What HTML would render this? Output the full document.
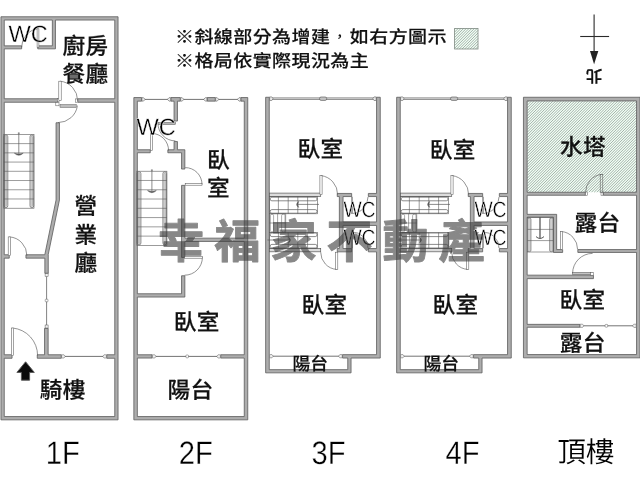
<!DOCTYPE html>
<html lang="zh-Hant">
<head>
<meta charset="utf-8">
<title>格局圖</title>
<style>
html,body{margin:0;padding:0;background:#fff;}
body{width:640px;height:480px;overflow:hidden;}
svg{display:block;will-change:transform;text-rendering:geometricPrecision;font-family:"Liberation Sans","Noto Sans CJK TC",sans-serif;}
.walls path{fill:#adadad;stroke:#5a5a5a;stroke-width:0.8;fill-rule:evenodd;}
.thin *{stroke:#5a5a5a;}
.wm{font-family:"Liberation Sans","Noto Sans CJK TC",sans-serif;font-weight:700;}
</style>
</head>
<body>
<svg width="640" height="480" viewBox="0 0 640 480" role="img" aria-label="格局圖">
<defs>


</defs>
<rect width="640" height="480" fill="#fff"/>
<g class="hatch">
<rect x="527.4" y="101.2" width="109" height="91" fill="#f1fef5"/><path d="M527.40,102.40L528.60,101.20M527.40,105.10L531.30,101.20M527.40,107.80L534.00,101.20M527.40,110.50L536.70,101.20M527.40,113.20L539.40,101.20M527.40,115.90L542.10,101.20M527.40,118.60L544.80,101.20M527.40,121.30L547.50,101.20M527.40,124.00L550.20,101.20M527.40,126.70L552.90,101.20M527.40,129.40L555.60,101.20M527.40,132.10L558.30,101.20M527.40,134.80L561.00,101.20M527.40,137.50L563.70,101.20M527.40,140.20L566.40,101.20M527.40,142.90L569.10,101.20M527.40,145.60L571.80,101.20M527.40,148.30L574.50,101.20M527.40,151.00L577.20,101.20M527.40,153.70L579.90,101.20M527.40,156.40L582.60,101.20M527.40,159.10L585.30,101.20M527.40,161.80L588.00,101.20M527.40,164.50L590.70,101.20M527.40,167.20L593.40,101.20M527.40,169.90L596.10,101.20M527.40,172.60L598.80,101.20M527.40,175.30L601.50,101.20M527.40,178.00L604.20,101.20M527.40,180.70L606.90,101.20M527.40,183.40L609.60,101.20M527.40,186.10L612.30,101.20M527.40,188.80L615.00,101.20M527.40,191.50L617.70,101.20M529.40,192.20L620.40,101.20M532.10,192.20L623.10,101.20M534.80,192.20L625.80,101.20M537.50,192.20L628.50,101.20M540.20,192.20L631.20,101.20M542.90,192.20L633.90,101.20M545.60,192.20L636.40,101.40M548.30,192.20L636.40,104.10M551.00,192.20L636.40,106.80M553.70,192.20L636.40,109.50M556.40,192.20L636.40,112.20M559.10,192.20L636.40,114.90M561.80,192.20L636.40,117.60M564.50,192.20L636.40,120.30M567.20,192.20L636.40,123.00M569.90,192.20L636.40,125.70M572.60,192.20L636.40,128.40M575.30,192.20L636.40,131.10M578.00,192.20L636.40,133.80M580.70,192.20L636.40,136.50M583.40,192.20L636.40,139.20M586.10,192.20L636.40,141.90M588.80,192.20L636.40,144.60M591.50,192.20L636.40,147.30M594.20,192.20L636.40,150.00M596.90,192.20L636.40,152.70M599.60,192.20L636.40,155.40M602.30,192.20L636.40,158.10M605.00,192.20L636.40,160.80M607.70,192.20L636.40,163.50M610.40,192.20L636.40,166.20M613.10,192.20L636.40,168.90M615.80,192.20L636.40,171.60M618.50,192.20L636.40,174.30M621.20,192.20L636.40,177.00M623.90,192.20L636.40,179.70M626.60,192.20L636.40,182.40M629.30,192.20L636.40,185.10M632.00,192.20L636.40,187.80M634.70,192.20L636.40,190.50" stroke="#74827a" stroke-width="0.62" fill="none"/><rect x="454.6" y="28.4" width="23.4" height="20.6" fill="#f1fef5"/><path d="M454.60,29.40L455.60,28.40M454.60,32.10L458.30,28.40M454.60,34.80L461.00,28.40M454.60,37.50L463.70,28.40M454.60,40.20L466.40,28.40M454.60,42.90L469.10,28.40M454.60,45.60L471.80,28.40M454.60,48.30L474.50,28.40M456.60,49.00L477.20,28.40M459.30,49.00L478.00,30.30M462.00,49.00L478.00,33.00M464.70,49.00L478.00,35.70M467.40,49.00L478.00,38.40M470.10,49.00L478.00,41.10M472.80,49.00L478.00,43.80M475.50,49.00L478.00,46.50" stroke="#74827a" stroke-width="0.62" fill="none"/>
</g>
<g class="walls">
<path d="M523.45,97.25 L523.45,357.85 L640.05,357.85 L640.05,97.25ZM553.45,252.45 L562.65,252.45 L562.65,249.55 L556.65,249.55 L556.65,214.35 L527.15,214.35 L527.15,195.25 L585.25,195.25 L585.25,192.25 L527.15,192.25 L527.15,100.95 L636.55,100.95 L636.55,192.25 L603.35,192.25 L603.35,195.25 L636.55,195.25 L636.55,249.55 L577.85,249.55 L577.85,252.45 L636.55,252.45 L636.55,354.55 L527.15,354.55 L527.15,327.25 L579.85,327.25 L579.85,324.35 L527.15,324.35 L527.15,278.65 L593.45,278.65 L593.45,275.15 L527.15,275.15 L527.15,217.15 L553.45,217.15Z"/>
<path d="M396.65,372.85 L482.05,372.85 L482.05,358.05 L511.25,358.05 L511.25,97.25 L507.55,97.25 L507.55,193.45 L499.35,193.45 L499.35,196.55 L507.55,196.55 L507.55,221.95 L474.05,221.95 L474.05,196.55 L482.65,196.55 L482.65,193.45 L468.25,193.45 L468.25,196.55 L470.35,196.55 L470.35,248.55 L468.25,248.55 L468.25,251.85 L482.65,251.85 L482.65,248.55 L474.05,248.55 L474.05,225.45 L507.55,225.45 L507.55,248.55 L499.35,248.55 L499.35,251.85 L507.55,251.85 L507.55,354.65 L473.55,354.65 L473.55,358.05 L478.75,358.05 L478.75,369.65 L400.25,369.65 L400.25,97.25 L396.65,97.25Z"/>
<path d="M343.05,196.55 L351.65,196.55 L351.65,193.45 L337.25,193.45 L337.25,196.55 L339.35,196.55 L339.35,248.55 L337.25,248.55 L337.25,251.85 L351.65,251.85 L351.65,248.55 L343.05,248.55 L343.05,225.45 L376.55,225.45 L376.55,248.55 L368.35,248.55 L368.35,251.85 L376.55,251.85 L376.55,354.65 L342.55,354.65 L342.55,358.05 L347.75,358.05 L347.75,369.65 L269.25,369.65 L269.25,97.25 L265.65,97.25 L265.65,372.85 L351.05,372.85 L351.05,358.05 L380.25,358.05 L380.25,97.25 L376.55,97.25 L376.55,193.45 L368.35,193.45 L368.35,196.55 L376.55,196.55 L376.55,221.95 L343.05,221.95Z"/>
<path d="M133.85,97.55 L133.85,419.85 L247.75,419.85 L247.75,97.55 L240.95,97.55 L240.95,101.15 L244.25,101.15 L244.25,238.15 L184.85,238.15 L184.85,185.35 L181.55,185.35 L181.55,257.45 L184.85,257.45 L184.85,241.45 L244.25,241.45 L244.25,354.75 L220.75,354.75 L220.75,358.05 L244.25,358.05 L244.25,416.55 L137.35,416.55 L137.35,358.05 L152.05,358.05 L152.05,354.75 L137.35,354.75 L137.35,297.05 L184.85,297.05 L184.85,275.75 L181.55,275.75 L181.55,293.75 L137.35,293.75 L137.35,152.75 L150.25,152.75 L150.25,149.75 L137.35,149.75 L137.35,101.15 L141.55,101.15 L141.55,97.55Z"/>
<path d="M207.25,101.15 L215.25,101.15 L215.25,97.55 L207.25,97.55Z"/>
<path d="M181.55,152.75 L181.55,169.05 L184.85,169.05 L184.85,149.75 L177.45,149.75 L177.45,141.55 L174.05,141.55 L174.05,149.75 L167.85,149.75 L167.85,152.75Z"/>
<path d="M170.95,101.15 L174.05,101.15 L174.05,121.05 L177.45,121.05 L177.45,101.15 L180.25,101.15 L180.25,97.55 L170.95,97.55Z"/>
<path d="M0.95,419.85 L118.05,419.85 L118.05,16.75 L0.95,16.75ZM12.05,358.25 L12.05,354.75 L4.25,354.75 L4.25,258.15 L9.25,258.15 L9.25,254.75 L4.25,254.75 L4.25,102.25 L57.65,102.25 L57.65,98.75 L4.25,98.75 L4.25,48.85 L21.65,48.85 L21.65,45.85 L4.25,45.85 L4.25,20.05 L52.35,20.05 L52.35,45.85 L37.75,45.85 L37.75,48.85 L55.45,48.85 L55.45,20.05 L114.75,20.05 L114.75,98.75 L77.75,98.75 L77.75,102.25 L114.75,102.25 L114.75,354.75 L106.75,354.75 L106.75,358.25 L114.75,358.25 L114.75,416.55 L4.25,416.55 L4.25,358.25Z"/>
<path d="M61.25,354.75 L48.15,354.75 L48.15,328.35 L44.55,328.35 L44.55,354.75 L37.25,354.75 L37.25,358.25 L61.25,358.25Z"/>
<path d="M59.45,199.96 L59.45,122.75 L56.05,122.75 L56.05,200.04 L44.79,254.75 L25.95,254.75 L25.95,258.15 L44.85,258.15 L44.85,273.25 L48.25,273.25 L48.25,254.36Z"/>
</g>
<g class="thin" fill="none">
<path d="M38,28.8 A18.50,18.50 0 0 0 21.6,47.3" stroke-width="0.65" fill="none" stroke="#666"/>
<rect x="37.1" y="28.8" width="1.8" height="18.5" stroke-width="0.55" fill="#fff" stroke="#666"/>
<rect x="57.3" y="98.6" width="2.3" height="2.8" stroke-width="0.5" fill="#fff" stroke="#666"/>
<rect x="75.6" y="98.9" width="2.0" height="3.3" stroke-width="0.5" fill="#fff" stroke="#666"/>
<path d="M60,81.2 A19.40,19.40 0 0 1 77.6,100.6" stroke-width="0.65" fill="none" stroke="#666"/>
<rect x="58.8" y="81.2" width="2.4" height="19.4" stroke-width="0.55" fill="#fff" stroke="#666"/>
<rect x="55.8" y="102.6" width="3.2" height="3.2" stroke-width="0.5" fill="#fff" stroke="#666"/>
<rect x="60" y="104.6" width="16.2" height="2.8" stroke-width="0.5" fill="#bdbdbd" stroke="#888"/>
<path d="M77.4,105.6 A19.6,19.6 0 0 1 58,122.6" stroke-width="0.65" fill="none" stroke="#666"/>
<line x1="46.6" y1="273.6" x2="46.6" y2="328" stroke-width="0.75" stroke="#666"/>
<rect x="45.2" y="299.2" width="2.8" height="2.6" stroke-width="0.5" fill="#fff" stroke="#666" rx="0.7"/>
<rect x="45.1" y="273.6" width="3.0" height="3.0" stroke-width="0.5" fill="#f2f2f2" stroke="#666"/>
<rect x="45.1" y="325" width="3.0" height="3" stroke-width="0.5" fill="#f2f2f2" stroke="#666"/>
<path d="M9.4,236.9 A18.70,18.70 0 0 1 26.9,255.6" stroke-width="0.65" fill="none" stroke="#666"/>
<rect x="8.2" y="236.9" width="2.4" height="18.7" stroke-width="0.55" fill="#fff" stroke="#666"/>
<line x1="61.6" y1="356.4" x2="106.4" y2="356.4" stroke-width="0.85" stroke="#555"/>
<path d="M61.6,354.79999999999995 L64.0,354.79999999999995 L65.2,356.4 L64.0,358.0 L61.6,358.0 Z" stroke-width="0.5" fill="#f2f2f2" stroke="#666"/>
<path d="M106.4,354.79999999999995 L104.0,354.79999999999995 L102.80000000000001,356.4 L104.0,358.0 L106.4,358.0 Z" stroke-width="0.5" fill="#f2f2f2" stroke="#666"/>
<path d="M12.5,328 A27.60,27.60 0 0 1 37.6,355.6" stroke-width="0.65" fill="none" stroke="#666"/>
<rect x="11.3" y="328" width="2.4" height="27.6" stroke-width="0.55" fill="#fff" stroke="#666"/>
<rect x="3.8" y="134.4" width="30.2" height="73.8" stroke-width="0.6" fill="none" stroke="#444"/>
<line x1="3.8" y1="143.62" x2="34" y2="143.62" stroke-width="0.6" stroke="#444"/>
<line x1="3.8" y1="152.85" x2="34" y2="152.85" stroke-width="0.6" stroke="#444"/>
<line x1="3.8" y1="162.07" x2="34" y2="162.07" stroke-width="0.6" stroke="#444"/>
<line x1="3.8" y1="171.3" x2="34" y2="171.3" stroke-width="0.6" stroke="#444"/>
<line x1="3.8" y1="180.52" x2="34" y2="180.52" stroke-width="0.6" stroke="#444"/>
<line x1="3.8" y1="189.75" x2="34" y2="189.75" stroke-width="0.6" stroke="#444"/>
<line x1="3.8" y1="198.97" x2="34" y2="198.97" stroke-width="0.6" stroke="#444"/>
<rect x="4.1" y="135.0" width="3.7" height="72.6" stroke-width="0.7" fill="none" stroke="#3c3c3c" rx="1.8"/>
<rect x="5.3" y="136.2" width="1.3" height="70.2" stroke-width="0.45" fill="none" stroke="#888" rx="0.6"/>
<rect x="30.0" y="135.0" width="3.7" height="72.6" stroke-width="0.7" fill="none" stroke="#3c3c3c" rx="1.8"/>
<rect x="31.2" y="136.2" width="1.3" height="70.2" stroke-width="0.45" fill="none" stroke="#888" rx="0.6"/>
<line x1="18.8" y1="132.4" x2="18.8" y2="155" stroke-width="0.7" stroke="#444"/>
<line x1="17.8" y1="133.20000000000002" x2="19.8" y2="133.20000000000002" stroke-width="0.6" stroke="#444"/>
<path d="M14.4,153.2 Q18.8,157.4 23.200000000000003,153.2 Q18.8,154.8 14.4,153.2 Z" stroke-width="0.5" fill="#555" stroke="#444"/>
<polygon points="25.6,361.8 34.3,372.4 29.6,372.4 29.6,380.2 21.4,380.2 21.4,372.4 16.9,372.4" fill="#0a0a0a" stroke="none"/>
<line x1="143.9" y1="99.4" x2="168.6" y2="99.4" stroke-width="0.85" stroke="#555"/>
<path d="M141.9,97.7 L143.5,97.7 L145.1,99.4 L143.5,101.1 L141.9,101.1 Z" stroke-width="0.6" fill="#eee" stroke="#555"/>
<path d="M170.6,97.7 L169.0,97.7 L167.4,99.4 L169.0,101.1 L170.6,101.1 Z" stroke-width="0.6" fill="#eee" stroke="#555"/>
<line x1="182.6" y1="99.4" x2="204.9" y2="99.4" stroke-width="0.85" stroke="#555"/>
<path d="M180.6,97.7 L182.2,97.7 L183.79999999999998,99.4 L182.2,101.1 L180.6,101.1 Z" stroke-width="0.6" fill="#eee" stroke="#555"/>
<path d="M206.9,97.7 L205.3,97.7 L203.70000000000002,99.4 L205.3,101.1 L206.9,101.1 Z" stroke-width="0.6" fill="#eee" stroke="#555"/>
<line x1="217.6" y1="99.4" x2="238.6" y2="99.4" stroke-width="0.85" stroke="#555"/>
<path d="M215.6,97.7 L217.2,97.7 L218.79999999999998,99.4 L217.2,101.1 L215.6,101.1 Z" stroke-width="0.6" fill="#eee" stroke="#555"/>
<path d="M240.6,97.7 L239.0,97.7 L237.4,99.4 L239.0,101.1 L240.6,101.1 Z" stroke-width="0.6" fill="#eee" stroke="#555"/>
<path d="M158,123.5 A17.40,17.40 0 0 0 175.4,140.9" stroke-width="0.65" fill="none" stroke="#666"/>
<rect x="158" y="122.6" width="17.4" height="1.8" stroke-width="0.55" fill="#b4b4b4" stroke="#666"/>
<path d="M151.5,133.4 A17.20,17.20 0 0 1 168.6,150.6" stroke-width="0.65" fill="none" stroke="#666"/>
<rect x="150.6" y="133.4" width="1.8" height="17.2" stroke-width="0.55" fill="#fff" stroke="#666"/>
<path d="M202,184.4 A16.80,16.80 0 0 0 185.2,167.6" stroke-width="0.65" fill="none" stroke="#666"/>
<rect x="185.2" y="183.6" width="16.8" height="1.6" stroke-width="0.55" fill="#fff" stroke="#666"/>
<path d="M202.4,257.4 A17.80,17.80 0 0 1 184.6,275.2" stroke-width="0.65" fill="none" stroke="#666"/>
<rect x="184.6" y="256.6" width="17.8" height="1.6" stroke-width="0.55" fill="#fff" stroke="#666"/>
<line x1="152.4" y1="356.4" x2="220.4" y2="356.4" stroke-width="0.85" stroke="#555"/>
<rect x="185.9" y="355.0" width="2.6" height="2.8" stroke-width="0.5" fill="#fff" stroke="#666" rx="0.7"/>
<path d="M152.4,354.79999999999995 L154.8,354.79999999999995 L156.0,356.4 L154.8,358.0 L152.4,358.0 Z" stroke-width="0.5" fill="#f2f2f2" stroke="#666"/>
<path d="M220.4,354.79999999999995 L218.0,354.79999999999995 L216.8,356.4 L218.0,358.0 L220.4,358.0 Z" stroke-width="0.5" fill="#f2f2f2" stroke="#666"/>
<rect x="136.9" y="171.2" width="30.0" height="74.2" stroke-width="0.6" fill="none" stroke="#444"/>
<line x1="136.9" y1="180.47" x2="166.9" y2="180.47" stroke-width="0.6" stroke="#444"/>
<line x1="136.9" y1="189.75" x2="166.9" y2="189.75" stroke-width="0.6" stroke="#444"/>
<line x1="136.9" y1="199.03" x2="166.9" y2="199.03" stroke-width="0.6" stroke="#444"/>
<line x1="136.9" y1="208.3" x2="166.9" y2="208.3" stroke-width="0.6" stroke="#444"/>
<line x1="136.9" y1="217.57" x2="166.9" y2="217.57" stroke-width="0.6" stroke="#444"/>
<line x1="136.9" y1="226.85" x2="166.9" y2="226.85" stroke-width="0.6" stroke="#444"/>
<line x1="136.9" y1="236.12" x2="166.9" y2="236.12" stroke-width="0.6" stroke="#444"/>
<rect x="137.2" y="171.8" width="3.7" height="73.0" stroke-width="0.7" fill="none" stroke="#3c3c3c" rx="1.8"/>
<rect x="138.4" y="173.0" width="1.3" height="70.6" stroke-width="0.45" fill="none" stroke="#888" rx="0.6"/>
<rect x="162.9" y="171.8" width="3.7" height="73.0" stroke-width="0.7" fill="none" stroke="#3c3c3c" rx="1.8"/>
<rect x="164.1" y="173.0" width="1.3" height="70.6" stroke-width="0.45" fill="none" stroke="#888" rx="0.6"/>
<line x1="151.9" y1="169.4" x2="151.9" y2="192.4" stroke-width="0.7" stroke="#444"/>
<line x1="150.9" y1="170.20000000000002" x2="152.9" y2="170.20000000000002" stroke-width="0.6" stroke="#444"/>
<path d="M147.5,190.6 Q151.9,194.8 156.3,190.6 Q151.9,192.20000000000002 147.5,190.6 Z" stroke-width="0.5" fill="#555" stroke="#444"/>
<rect x="269.6" y="97.9" width="106.6" height="1.6" stroke-width="0.6" fill="#dcdcdc" stroke="#5c5c5c"/>
<rect x="319.5" y="97.0" width="7.2" height="3.4" stroke-width="0.65" fill="#c4c4c4" stroke="#4a4a4a" rx="1.6"/>
<path d="M269.6,96.9 L271.8,96.9 L273.0,98.7 L271.8,100.5 L269.6,100.5 Z" stroke-width="0.55" fill="#e8e8e8" stroke="#666"/>
<path d="M376.2,96.9 L374.0,96.9 L372.8,98.7 L374.0,100.5 L376.2,100.5 Z" stroke-width="0.55" fill="#e8e8e8" stroke="#666"/>
<rect x="269.6" y="193.1" width="51.1" height="3.5" stroke-width="0.7" fill="#dcdcdc" stroke="#555"/>
<path d="M321,175.6 A19.00,19.00 0 0 1 337.6,194.6" stroke-width="0.65" fill="none" stroke="#666"/>
<rect x="319.9" y="175.6" width="2.2" height="19.0" stroke-width="0.55" fill="#fff" stroke="#666"/>
<path d="M352,213.5 A16.50,16.50 0 0 0 368,197" stroke-width="0.65" fill="none" stroke="#666"/>
<rect x="351.3" y="197" width="1.4" height="16.5" stroke-width="0.55" fill="#fff" stroke="#666"/>
<path d="M352,232 A16.00,16.00 0 0 1 368,248" stroke-width="0.65" fill="none" stroke="#666"/>
<rect x="351.3" y="232" width="1.4" height="16" stroke-width="0.55" fill="#fff" stroke="#666"/>
<rect x="269.6" y="248.4" width="51.1" height="3.4" stroke-width="0.7" fill="#dcdcdc" stroke="#555"/>
<path d="M336.7,269.4 A17.20,17.20 0 0 1 320.7,252.2" stroke-width="0.65" fill="none" stroke="#666"/>
<rect x="335.6" y="252.2" width="2.2" height="17.2" stroke-width="0.55" fill="#fff" stroke="#666"/>
<rect x="269.6" y="196.6" width="48.0" height="17.2" stroke-width="0.6" fill="none" stroke="#444"/>
<rect x="270.2" y="197.2" width="46.8" height="3.6" stroke-width="0.7" fill="none" stroke="#3c3c3c" rx="1.7"/>
<rect x="270.2" y="209.6" width="46.8" height="3.6" stroke-width="0.7" fill="none" stroke="#3c3c3c" rx="1.7"/>
<line x1="278.4" y1="196.6" x2="278.4" y2="213.8" stroke-width="0.6" stroke="#444"/>
<line x1="288.2" y1="196.6" x2="288.2" y2="213.8" stroke-width="0.6" stroke="#444"/>
<line x1="297.8" y1="196.6" x2="297.8" y2="213.8" stroke-width="0.6" stroke="#444"/>
<line x1="307.6" y1="196.6" x2="307.6" y2="213.8" stroke-width="0.6" stroke="#444"/>
<rect x="269.6" y="232.4" width="48.0" height="16.2" stroke-width="0.6" fill="none" stroke="#444"/>
<rect x="270.2" y="233.0" width="46.8" height="3.6" stroke-width="0.7" fill="none" stroke="#3c3c3c" rx="1.7"/>
<rect x="270.2" y="244.4" width="46.8" height="3.6" stroke-width="0.7" fill="none" stroke="#3c3c3c" rx="1.7"/>
<line x1="278.4" y1="232.4" x2="278.4" y2="248.6" stroke-width="0.6" stroke="#444"/>
<line x1="288.2" y1="232.4" x2="288.2" y2="248.6" stroke-width="0.6" stroke="#444"/>
<line x1="297.8" y1="232.4" x2="297.8" y2="248.6" stroke-width="0.6" stroke="#444"/>
<line x1="307.6" y1="232.4" x2="307.6" y2="248.6" stroke-width="0.6" stroke="#444"/>
<rect x="269.6" y="213.8" width="16.2" height="18.6" stroke-width="0.6" fill="none" stroke="#444"/>
<rect x="270.4" y="214.2" width="3.2" height="17.8" stroke-width="0.5" fill="none" stroke="#444" rx="1.5"/>
<rect x="281.6" y="214.2" width="3.4" height="17.8" stroke-width="0.5" fill="none" stroke="#444" rx="1.5"/>
<line x1="277.6" y1="213.8" x2="277.6" y2="232.4" stroke-width="0.55" stroke="#444"/>
<line x1="269.6" y1="223" x2="285.8" y2="223" stroke-width="0.55" stroke="#444"/>
<line x1="297" y1="204.4" x2="319" y2="204.4" stroke-width="0.7" stroke="#444"/>
<path d="M298.6,201.4 Q294.6,204.4 298.6,207.4 Q297,204.4 298.6,201.4 Z" stroke-width="0.5" fill="#555" stroke="#444"/>
<line x1="267.4" y1="240" x2="290" y2="240" stroke-width="0.7" stroke="#444"/>
<path d="M288.6,237.2 Q292.4,240 288.6,242.8 Q290.2,240 288.6,237.2 Z" stroke-width="0.5" fill="#555" stroke="#444"/>
<line x1="269.6" y1="356.2" x2="342.2" y2="356.2" stroke-width="0.85" stroke="#555"/>
<path d="M269.6,354.59999999999997 L272.0,354.59999999999997 L273.20000000000005,356.2 L272.0,357.8 L269.6,357.8 Z" stroke-width="0.5" fill="#f2f2f2" stroke="#666"/>
<path d="M342.2,354.59999999999997 L339.8,354.59999999999997 L338.59999999999997,356.2 L339.8,357.8 L342.2,357.8 Z" stroke-width="0.5" fill="#f2f2f2" stroke="#666"/>
<rect x="400.6" y="97.9" width="106.6" height="1.6" stroke-width="0.6" fill="#dcdcdc" stroke="#5c5c5c"/>
<rect x="450.5" y="97.0" width="7.2" height="3.4" stroke-width="0.65" fill="#c4c4c4" stroke="#4a4a4a" rx="1.6"/>
<path d="M400.6,96.9 L402.8,96.9 L404.0,98.7 L402.8,100.5 L400.6,100.5 Z" stroke-width="0.55" fill="#e8e8e8" stroke="#666"/>
<path d="M507.2,96.9 L505.0,96.9 L503.8,98.7 L505.0,100.5 L507.2,100.5 Z" stroke-width="0.55" fill="#e8e8e8" stroke="#666"/>
<rect x="400.6" y="193.1" width="51.1" height="3.5" stroke-width="0.7" fill="#dcdcdc" stroke="#555"/>
<path d="M452,175.6 A19.00,19.00 0 0 1 468.6,194.6" stroke-width="0.65" fill="none" stroke="#666"/>
<rect x="450.9" y="175.6" width="2.2" height="19.0" stroke-width="0.55" fill="#fff" stroke="#666"/>
<path d="M483,213.5 A16.50,16.50 0 0 0 499,197" stroke-width="0.65" fill="none" stroke="#666"/>
<rect x="482.3" y="197" width="1.4" height="16.5" stroke-width="0.55" fill="#fff" stroke="#666"/>
<path d="M483,232 A16.00,16.00 0 0 1 499,248" stroke-width="0.65" fill="none" stroke="#666"/>
<rect x="482.3" y="232" width="1.4" height="16" stroke-width="0.55" fill="#fff" stroke="#666"/>
<rect x="400.6" y="248.4" width="51.1" height="3.4" stroke-width="0.7" fill="#dcdcdc" stroke="#555"/>
<path d="M467.7,269.4 A17.20,17.20 0 0 1 451.7,252.2" stroke-width="0.65" fill="none" stroke="#666"/>
<rect x="466.6" y="252.2" width="2.2" height="17.2" stroke-width="0.55" fill="#fff" stroke="#666"/>
<rect x="400.6" y="196.6" width="48.0" height="17.2" stroke-width="0.6" fill="none" stroke="#444"/>
<rect x="401.2" y="197.2" width="46.8" height="3.6" stroke-width="0.7" fill="none" stroke="#3c3c3c" rx="1.7"/>
<rect x="401.2" y="209.6" width="46.8" height="3.6" stroke-width="0.7" fill="none" stroke="#3c3c3c" rx="1.7"/>
<line x1="409.4" y1="196.6" x2="409.4" y2="213.8" stroke-width="0.6" stroke="#444"/>
<line x1="419.2" y1="196.6" x2="419.2" y2="213.8" stroke-width="0.6" stroke="#444"/>
<line x1="428.8" y1="196.6" x2="428.8" y2="213.8" stroke-width="0.6" stroke="#444"/>
<line x1="438.6" y1="196.6" x2="438.6" y2="213.8" stroke-width="0.6" stroke="#444"/>
<rect x="400.6" y="232.4" width="48.0" height="16.2" stroke-width="0.6" fill="none" stroke="#444"/>
<rect x="401.2" y="233.0" width="46.8" height="3.6" stroke-width="0.7" fill="none" stroke="#3c3c3c" rx="1.7"/>
<rect x="401.2" y="244.4" width="46.8" height="3.6" stroke-width="0.7" fill="none" stroke="#3c3c3c" rx="1.7"/>
<line x1="409.4" y1="232.4" x2="409.4" y2="248.6" stroke-width="0.6" stroke="#444"/>
<line x1="419.2" y1="232.4" x2="419.2" y2="248.6" stroke-width="0.6" stroke="#444"/>
<line x1="428.8" y1="232.4" x2="428.8" y2="248.6" stroke-width="0.6" stroke="#444"/>
<line x1="438.6" y1="232.4" x2="438.6" y2="248.6" stroke-width="0.6" stroke="#444"/>
<rect x="400.6" y="213.8" width="16.2" height="18.6" stroke-width="0.6" fill="none" stroke="#444"/>
<rect x="401.4" y="214.2" width="3.2" height="17.8" stroke-width="0.5" fill="none" stroke="#444" rx="1.5"/>
<rect x="412.6" y="214.2" width="3.4" height="17.8" stroke-width="0.5" fill="none" stroke="#444" rx="1.5"/>
<line x1="408.6" y1="213.8" x2="408.6" y2="232.4" stroke-width="0.55" stroke="#444"/>
<line x1="400.6" y1="223" x2="416.8" y2="223" stroke-width="0.55" stroke="#444"/>
<line x1="428" y1="204.4" x2="450" y2="204.4" stroke-width="0.7" stroke="#444"/>
<path d="M429.6,201.4 Q425.6,204.4 429.6,207.4 Q428,204.4 429.6,201.4 Z" stroke-width="0.5" fill="#555" stroke="#444"/>
<line x1="398.4" y1="240" x2="421" y2="240" stroke-width="0.7" stroke="#444"/>
<path d="M419.6,237.2 Q423.4,240 419.6,242.8 Q421.2,240 419.6,237.2 Z" stroke-width="0.5" fill="#555" stroke="#444"/>
<line x1="400.6" y1="356.2" x2="473.2" y2="356.2" stroke-width="0.85" stroke="#555"/>
<path d="M400.6,354.59999999999997 L403.0,354.59999999999997 L404.20000000000005,356.2 L403.0,357.8 L400.6,357.8 Z" stroke-width="0.5" fill="#f2f2f2" stroke="#666"/>
<path d="M473.2,354.59999999999997 L470.8,354.59999999999997 L469.59999999999997,356.2 L470.8,357.8 L473.2,357.8 Z" stroke-width="0.5" fill="#f2f2f2" stroke="#666"/>
<rect x="585.6" y="192" width="2.0" height="3.4" stroke-width="0.5" fill="#fff" stroke="#666"/>
<rect x="601" y="192" width="2" height="3.4" stroke-width="0.5" fill="#fff" stroke="#666"/>
<path d="M601.5,174.4 A18.00,18.00 0 0 0 585.6,192.4" stroke-width="0.65" fill="none" stroke="#666"/>
<rect x="600.2" y="174.4" width="2.6" height="18.0" stroke-width="0.55" fill="none" stroke="#666"/>
<path d="M561.5,231.5 A17.90,17.90 0 0 1 577.6,249.4" stroke-width="0.65" fill="none" stroke="#666"/>
<rect x="560.3" y="231.5" width="2.4" height="17.9" stroke-width="0.55" fill="#fff" stroke="#666"/>
<rect x="527.4" y="217.5" width="25.7" height="34.5" stroke-width="0.6" fill="none" stroke="#444"/>
<rect x="527.6" y="218" width="3.4" height="33.6" stroke-width="0.55" fill="#cfcfcf" stroke="#444" rx="1.4"/>
<rect x="549.6" y="218" width="3.4" height="33.6" stroke-width="0.55" fill="#cfcfcf" stroke="#444" rx="1.4"/>
<line x1="527.4" y1="229.4" x2="553.1" y2="229.4" stroke-width="0.6" stroke="#444"/>
<line x1="527.4" y1="240.6" x2="553.1" y2="240.6" stroke-width="0.6" stroke="#444"/>
<line x1="540" y1="216.9" x2="540" y2="238" stroke-width="1.3" stroke="#999"/>
<path d="M536,236.6 Q540,240.4 544,236.6" stroke-width="1.0" fill="none" stroke="#777"/>
<path d="M572.6,273.4 A20.00,20.00 0 0 1 592.6,253.4" stroke-width="0.65" fill="none" stroke="#666"/>
<rect x="572.6" y="272.4" width="20.0" height="2.0" stroke-width="0.55" fill="#c4c4c4" stroke="#666"/>
<rect x="590.6" y="272.4" width="3.0" height="2.8" stroke-width="0.5" fill="#fff" stroke="#666"/>
<line x1="580.2" y1="325.8" x2="636.2" y2="325.8" stroke-width="0.85" stroke="#555"/>
<rect x="605.1" y="324.4" width="2.6" height="2.8" stroke-width="0.5" fill="#fff" stroke="#666" rx="0.7"/>
<path d="M580.2,324.2 L582.6,324.2 L583.8000000000001,325.8 L582.6,327.40000000000003 L580.2,327.40000000000003 Z" stroke-width="0.5" fill="#f2f2f2" stroke="#666"/>
<path d="M636.2,324.2 L633.8000000000001,324.2 L632.6,325.8 L633.8000000000001,327.40000000000003 L636.2,327.40000000000003 Z" stroke-width="0.5" fill="#f2f2f2" stroke="#666"/>
</g>
<g class="labels">
<text x="62.6" y="54.4" font-size="22.6" font-weight="500" letter-spacing="0.4" text-anchor="start" fill="#111" stroke="#111" stroke-width="0.22">廚房</text>
<text x="62.6" y="82.2" font-size="22.6" font-weight="500" letter-spacing="0.4" text-anchor="start" fill="#111" stroke="#111" stroke-width="0.22">餐廳</text>
<text x="74.6" y="214.3" font-size="22.6" font-weight="500" letter-spacing="0.4" text-anchor="start" fill="#111" stroke="#111" stroke-width="0.22">營</text>
<text x="74.6" y="243" font-size="22.6" font-weight="500" letter-spacing="0.4" text-anchor="start" fill="#111" stroke="#111" stroke-width="0.22">業</text>
<text x="74.6" y="271" font-size="22.6" font-weight="500" letter-spacing="0.4" text-anchor="start" fill="#111" stroke="#111" stroke-width="0.22">廳</text>
<text x="39.8" y="398.3" font-size="22.6" font-weight="500" letter-spacing="0.4" text-anchor="start" fill="#111" stroke="#111" stroke-width="0.22">騎樓</text>
<text x="8.6" y="41.8" font-size="23.6" font-weight="400" text-anchor="start" fill="#000" stroke="#fff" stroke-width="0.35" paint-order="fill stroke">WC</text>
<text x="62.8" y="464.2" font-size="32.5" font-weight="400" text-anchor="middle" fill="#000" stroke="#fff" stroke-width="0.35" paint-order="fill stroke" textLength="34.0" lengthAdjust="spacingAndGlyphs">1F</text>
<text x="207" y="168" font-size="22.6" font-weight="500" letter-spacing="0.4" text-anchor="start" fill="#111" stroke="#111" stroke-width="0.22">臥</text>
<text x="207" y="196.2" font-size="22.6" font-weight="500" letter-spacing="0.4" text-anchor="start" fill="#111" stroke="#111" stroke-width="0.22">室</text>
<text x="173.8" y="329.8" font-size="22.6" font-weight="500" letter-spacing="0.4" text-anchor="start" fill="#111" stroke="#111" stroke-width="0.22">臥室</text>
<text x="167.4" y="397.8" font-size="22.6" font-weight="500" letter-spacing="0.4" text-anchor="start" fill="#111" stroke="#111" stroke-width="0.22">陽台</text>
<text x="136.4" y="135.3" font-size="23.6" font-weight="400" text-anchor="start" fill="#000" stroke="#fff" stroke-width="0.35" paint-order="fill stroke">WC</text>
<text x="195.8" y="464.2" font-size="32.5" font-weight="400" text-anchor="middle" fill="#000" stroke="#fff" stroke-width="0.35" paint-order="fill stroke" textLength="34.0" lengthAdjust="spacingAndGlyphs">2F</text>
<text x="297.6" y="157" font-size="22.6" font-weight="500" letter-spacing="0.4" text-anchor="start" fill="#111" stroke="#111" stroke-width="0.22">臥室</text>
<text x="301.6" y="313.2" font-size="22.6" font-weight="500" letter-spacing="0.4" text-anchor="start" fill="#111" stroke="#111" stroke-width="0.22">臥室</text>
<text x="292.4" y="370.4" font-size="17.8" font-weight="500" letter-spacing="0" text-anchor="start" fill="#111" stroke="#111" stroke-width="0.22">陽台</text>
<text x="343.4" y="217.2" font-size="22" font-weight="400" text-anchor="start" fill="#000" stroke="#fff" stroke-width="0.4" paint-order="fill stroke" textLength="32" lengthAdjust="spacingAndGlyphs">WC</text>
<text x="343.4" y="244.8" font-size="22" font-weight="400" text-anchor="start" fill="#000" stroke="#fff" stroke-width="0.4" paint-order="fill stroke" textLength="32" lengthAdjust="spacingAndGlyphs">WC</text>
<text x="328.5" y="464.2" font-size="32.5" font-weight="400" text-anchor="middle" fill="#000" stroke="#fff" stroke-width="0.35" paint-order="fill stroke" textLength="34.0" lengthAdjust="spacingAndGlyphs">3F</text>
<text x="429.8" y="157.6" font-size="22.6" font-weight="500" letter-spacing="0.4" text-anchor="start" fill="#111" stroke="#111" stroke-width="0.22">臥室</text>
<text x="432.6" y="313.2" font-size="22.6" font-weight="500" letter-spacing="0.4" text-anchor="start" fill="#111" stroke="#111" stroke-width="0.22">臥室</text>
<text x="423.4" y="370.4" font-size="17.8" font-weight="500" letter-spacing="0" text-anchor="start" fill="#111" stroke="#111" stroke-width="0.22">陽台</text>
<text x="474.4" y="217.2" font-size="22" font-weight="400" text-anchor="start" fill="#000" stroke="#fff" stroke-width="0.4" paint-order="fill stroke" textLength="32" lengthAdjust="spacingAndGlyphs">WC</text>
<text x="474.4" y="244.8" font-size="22" font-weight="400" text-anchor="start" fill="#000" stroke="#fff" stroke-width="0.4" paint-order="fill stroke" textLength="32" lengthAdjust="spacingAndGlyphs">WC</text>
<text x="462.6" y="464.2" font-size="32.5" font-weight="400" text-anchor="middle" fill="#000" stroke="#fff" stroke-width="0.35" paint-order="fill stroke" textLength="34.0" lengthAdjust="spacingAndGlyphs">4F</text>
<text x="560" y="154.8" font-size="22.6" font-weight="500" letter-spacing="0.4" text-anchor="start" fill="#111" stroke="#111" stroke-width="0.22">水塔</text>
<text x="574.6" y="230.8" font-size="22.6" font-weight="500" letter-spacing="0.4" text-anchor="start" fill="#111" stroke="#111" stroke-width="0.22">露台</text>
<text x="559.6" y="308.4" font-size="22.6" font-weight="500" letter-spacing="0.4" text-anchor="start" fill="#111" stroke="#111" stroke-width="0.22">臥室</text>
<text x="559.8" y="351" font-size="22.6" font-weight="500" letter-spacing="0.4" text-anchor="start" fill="#111" stroke="#111" stroke-width="0.22">露台</text>
<text x="586" y="461.6" font-size="28.4" font-weight="350" text-anchor="middle" fill="#000">頂樓</text>
</g>
<g class="header">
<text transform="translate(175 43.2) scale(1.085 1)" font-size="17.5" font-weight="500" letter-spacing="0.4" fill="#111" stroke="#111" stroke-width="0.15">※斜線部分為增建<tspan font-size="12" dx="2.75" dy="-2.2">，</tspan><tspan dx="2.75" dy="2.2">如右方圖示</tspan></text>
<text transform="translate(175 67) scale(1.085 1)" font-size="17.5" font-weight="500" letter-spacing="0.4" fill="#111" stroke="#111" stroke-width="0.15">※格局依實際現況為主</text>
<rect x="454.6" y="28.4" width="23.4" height="20.6" fill="none" stroke="#7f8a82" stroke-width="0.8"/>
<line x1="594.1" y1="14.4" x2="594.1" y2="53" stroke="#2a2a2a" stroke-width="1.1"/>
<line x1="580.2" y1="36.5" x2="609.1" y2="36.5" stroke="#2a2a2a" stroke-width="1.1"/>
<polygon points="590,51 598.3,51 594.1,64.2" fill="#222"/>
<text x="0" y="0" font-size="16.6" font-weight="500" text-anchor="middle" fill="#111" stroke="#111" stroke-width="0.3" transform="translate(594 70.4) rotate(180)">北</text>
</g>
<g class="wm" fill="#404040" stroke="#404040" stroke-width="0.9" stroke-linejoin="round" opacity="0.62">
<text x="158.1" y="257.8" font-size="46.2" letter-spacing="9.9">幸福家不動產</text>
</g>
</svg>
</body>
</html>
